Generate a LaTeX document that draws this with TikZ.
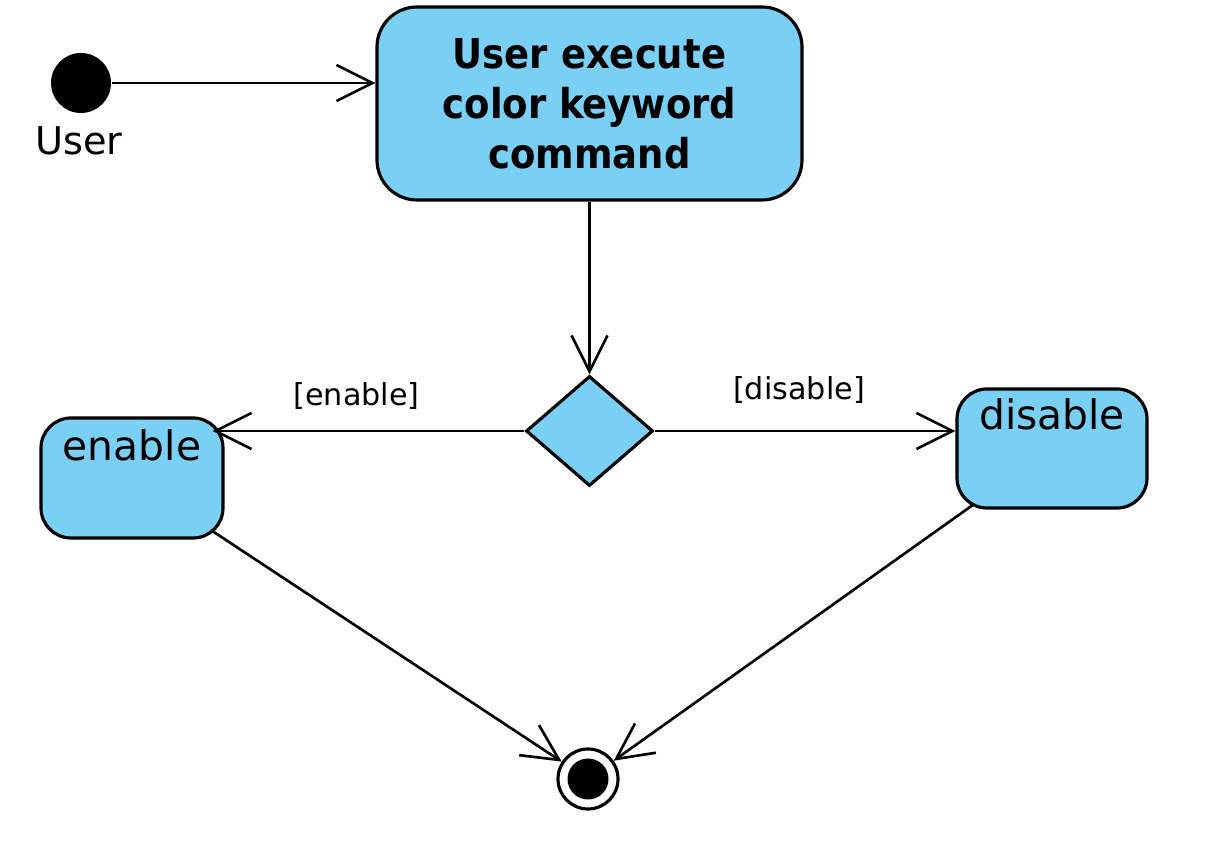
\documentclass[tikz,border=0pt]{standalone}
\usepackage{fontspec}
\setmainfont{DejaVu Sans}[BoldFont={DejaVu Sans Condensed Bold}]
\usetikzlibrary{shapes.geometric,arrows.meta}

\definecolor{umlblue}{RGB}{122,207,245}
\tikzset{
	activity/.style={draw, fill=umlblue, line width=0.9pt, rounded corners=0.3cm, inner sep=0pt},
	flow/.style={line width=0.75pt, -{Straight Barb[length=0.36cm,width=0.36cm]}},
	guard/.style={font=\fontsize{8.6}{10}\selectfont},
}

\begin{document}
\begin{tikzpicture}
		\useasboundingbox (0,0) rectangle (12.15,-8.64);

		% start and end points
		\node[circle, fill=black, inner sep=0pt, minimum size=0.60cm] (start) at (0.81,-0.83) {};
		\node[font=\fontsize{10.9}{13}\selectfont] (user) at (0.79,-1.41) {User};
		\node[circle, draw, fill=white, line width=0.9pt, inner sep=0pt, minimum size=0.60cm] (final) at (5.88,-7.79) {};
		\fill (final) circle (0.205cm);

		% activities
		\node[activity, rounded corners=0.4cm, minimum width=4.25cm, minimum height=1.93cm, align=center,
			font=\bfseries\fontsize{11.7}{14.2}\selectfont] (cmd) at (5.895,-1.035) {User execute\\color keyword\\command};
		\node[diamond, draw, fill=umlblue, line width=0.9pt, inner sep=0pt, minimum width=1.27cm, minimum height=1.10cm] (choice) at (5.895,-4.31) {};
		\node[activity, minimum width=1.82cm, minimum height=1.20cm, text height=0.30cm, text depth=0.64cm,
			font=\fontsize{11.6}{14}\selectfont] (enable) at (1.32,-4.78) {enable};
		\node[activity, minimum width=1.90cm, minimum height=1.19cm, text height=0.30cm, text depth=0.67cm,
			font=\fontsize{11.6}{14}\selectfont] (disable) at (10.52,-4.485) {disable};

		% transitions
		\draw[flow] (start) -- (start -| cmd.west);
		\draw[flow] (cmd) -- (choice);
		\draw[flow, shorten >=-0.12cm] (choice) -- node[guard, above=0.08cm, pos=0.56] {[enable]} (choice -| enable.east);
		\draw[flow] (choice) -- node[guard, above=0.14cm, pos=0.48] {[disable]} (choice -| disable.west);
		\draw[flow, shorten <=-0.16cm] (enable) -- (final);
		\draw[flow, shorten <=-0.09cm] (disable) -- (final);
	\end{tikzpicture}
\end{document}
